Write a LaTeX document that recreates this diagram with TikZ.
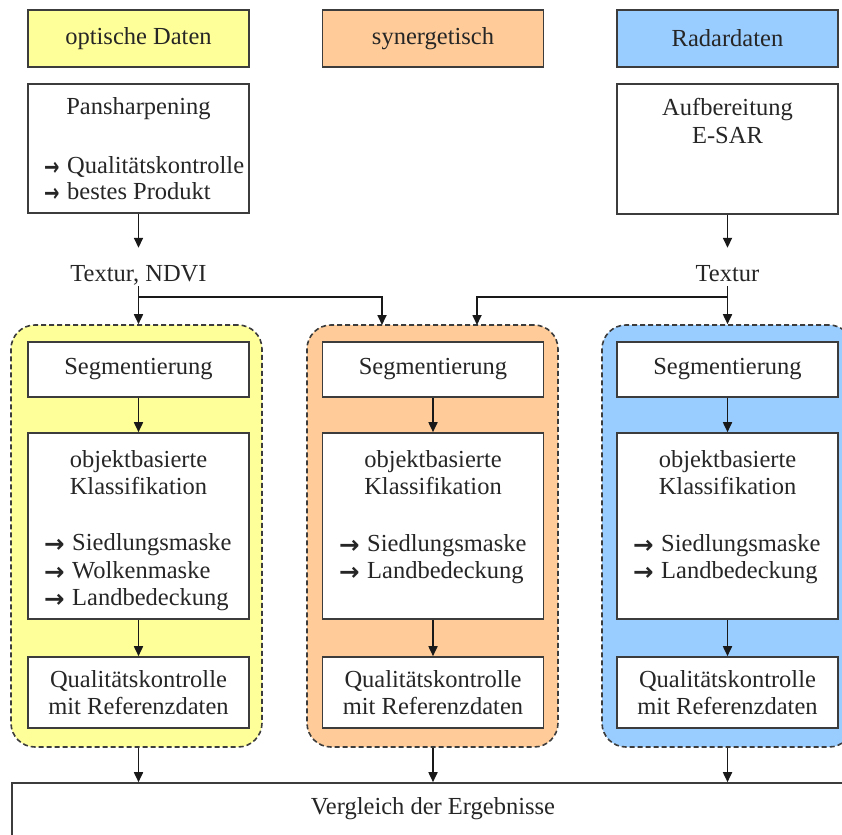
\documentclass[tikz,border=0pt]{standalone}
\usepackage{fontspec}
\usepackage{graphicx}
\setmainfont{Liberation Serif}
\newfontfamily\symfont{DejaVu Sans}
\usetikzlibrary{arrows.meta}
\definecolor{optfill}{HTML}{FFFF99}
\definecolor{synfill}{HTML}{FFCC99}
\definecolor{radfill}{HTML}{99CCFF}
\definecolor{edge}{HTML}{3C3C3C}
% bullet arrow in front of list entries: [advance to the text][horizontal scale]
\newcommand\pfeil[2][28pt]{\makebox[#1][l]{\raisebox{-2pt}{\scalebox{#2}[1]{\symfont\bfseries →}}}}
\begin{document}
\begin{tikzpicture}[x=1pt,y=-1pt,
  every node/.style={font=\fontsize{24.5}{27}\selectfont, text=black!85},
  box/.style={draw=edge, line width=1.6pt, fill=white, rectangle, inner sep=0pt, minimum width=221pt},
  hdr/.style={box, minimum height=57pt},
  panel/.style={draw=edge, line width=1.6pt, dash pattern=on 5pt off 3pt,
    rounded corners=24pt, minimum width=251pt, minimum height=422pt, inner sep=0pt},
  lbl/.style={inner sep=0pt, anchor=base},
  item/.style={inner sep=0pt, anchor=base west},
  arr/.style={draw=black!90, line width=1.7pt, -{Triangle[length=10pt,width=9pt]}}
]
\useasboundingbox (0,0) rectangle (842,834);
\clip (0,0) rectangle (842,834);

% column headers
\node[hdr, fill=optfill] (hopt) at (138.5,38.5) {optische Daten};
\node[hdr, fill=synfill] (hsyn) at (433,38.5) {synergetisch};
\node[hdr, fill=radfill] (hrad) at (727.5,38.5) {Radardaten};

% preprocessing
\node[box, minimum height=129pt] (pan) at (138.5,148.5) {};
\node[lbl] (panT) at (138.5,115) {Pansharpening};
\node[item] (panA) at (44,174) {\pfeil[23pt]{0.75}Qualitätskontrolle};
\node[item] (panB) at (44,200) {\pfeil[23pt]{0.75}bestes Produkt};

\node[box, minimum height=130pt] (aufb) at (727.5,149) {};
\node[lbl] (aufT) at (727.5,116) {Aufbereitung};
\node[lbl] (aufU) at (727.5,144) {E-SAR};

% derived features
\node[lbl, text height=16pt, text depth=5pt] (tn) at (138.5,281) {Textur, NDVI};
\node[lbl, text height=16pt, text depth=5pt] (tr) at (727.5,281) {Textur};

% processing panels
\node[panel, fill=optfill] (popt) at (136.5,536) {};
\node[panel, fill=synfill] (psyn) at (432.5,536) {};
\node[panel, fill=radfill] (prad) at (727.5,536) {};

% segmentation
\node[box, minimum height=55pt] (segO) at (138.5,369.5) {Segmentierung};
\node[box, minimum height=55pt] (segS) at (433,369.5) {Segmentierung};
\node[box, minimum height=55pt] (segR) at (727.5,369.5) {Segmentierung};

% object based classification
\node[box, minimum height=186pt] (objO) at (138.5,526) {};
\node[lbl] (objOa) at (138.5,467) {objektbasierte};
\node[lbl] (objOb) at (138.5,494) {Klassifikation};
\node[item] (objOc) at (44,550) {\pfeil{1}Siedlungsmaske};
\node[item] (objOd) at (44,578) {\pfeil{1}Wolkenmaske};
\node[item] (objOe) at (44,605) {\pfeil{1}Landbedeckung};

\node[box, minimum height=186pt] (objS) at (433,526) {};
\node[lbl] (objSa) at (433,467) {objektbasierte};
\node[lbl] (objSb) at (433,494) {Klassifikation};
\node[item] (objSc) at (339,551) {\pfeil{1}Siedlungsmaske};
\node[item] (objSd) at (339,578) {\pfeil{1}Landbedeckung};

\node[box, minimum height=186pt] (objR) at (727.5,526) {};
\node[lbl] (objRa) at (727.5,467) {objektbasierte};
\node[lbl] (objRb) at (727.5,494) {Klassifikation};
\node[item] (objRc) at (633,551) {\pfeil{1}Siedlungsmaske};
\node[item] (objRd) at (633,578) {\pfeil{1}Landbedeckung};

% accuracy assessment
\node[box, minimum height=71pt, align=center] (qkO) at (138.5,692.5) {Qualitätskontrolle\\mit Referenzdaten};
\node[box, minimum height=71pt, align=center] (qkS) at (433,692.5) {Qualitätskontrolle\\mit Referenzdaten};
\node[box, minimum height=71pt, align=center] (qkR) at (727.5,692.5) {Qualitätskontrolle\\mit Referenzdaten};

% comparison
\node[box, minimum width=842pt, minimum height=80pt] (cmp) at (433,823) {};
\node[lbl] (cmpT) at (433,814) {Vergleich der Ergebnisse};

% connectors
\draw[arr] (pan.south) -- ([yshift=17pt]tn.north);
\draw[arr] (aufb.south) -- ([yshift=17pt]tr.north);
\coordinate (jl) at (138.5,297);
\coordinate (jr) at (727.5,297);
\coordinate (sinL) at (382,325);
\coordinate (sinR) at (477,325);
\draw[arr] (tn.south) -- (tn.south |- popt.north);
\draw[arr] (tr.south) -- (tr.south |- prad.north);
\draw[arr] (jl) -| (sinL);
\draw[arr] (jr) -| (sinR);

\draw[arr] (segO) -- (objO);
\draw[arr] (segS) -- (objS);
\draw[arr] (segR) -- (objR);
\draw[arr] (objO) -- (qkO);
\draw[arr] (objS) -- (qkS);
\draw[arr] (objR) -- (qkR);

\draw[arr] (qkO.south |- popt.south) -- (qkO.south |- cmp.north);
\draw[arr] (qkS.south |- psyn.south) -- (qkS.south |- cmp.north);
\draw[arr] (qkR.south |- prad.south) -- (qkR.south |- cmp.north);
\end{tikzpicture}
\end{document}
